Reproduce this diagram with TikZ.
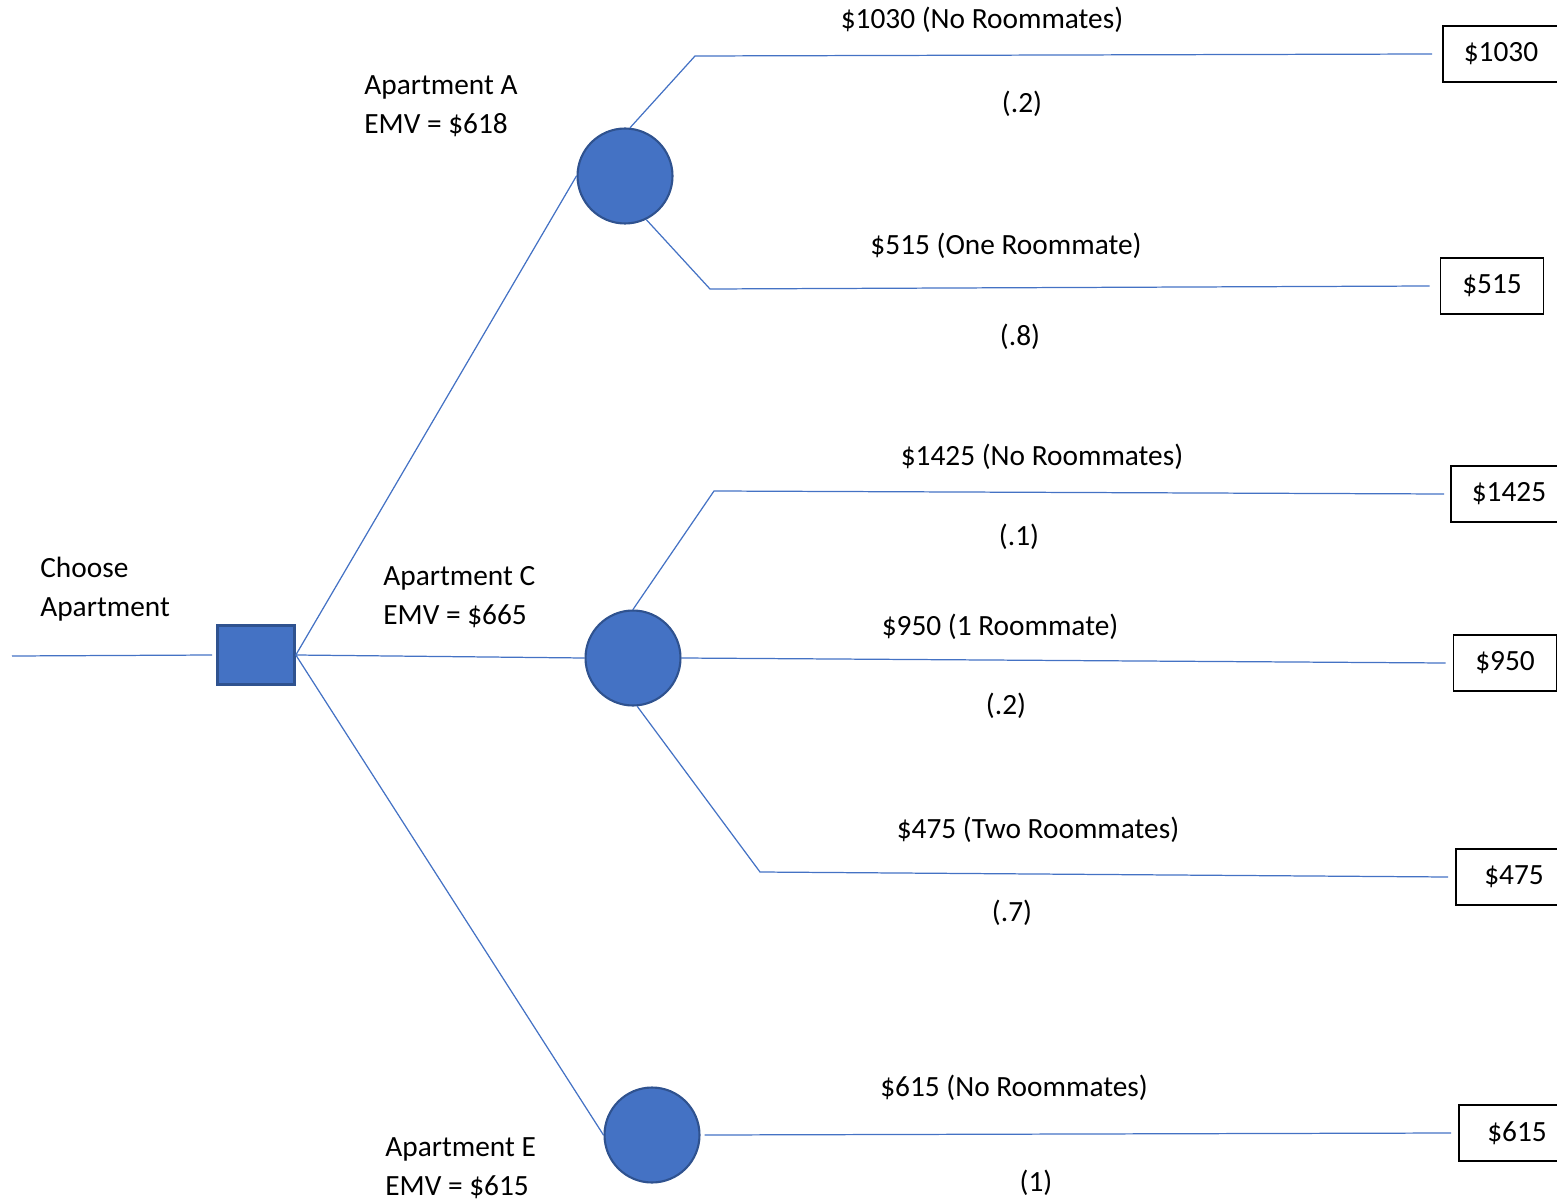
\documentclass[tikz,border=0pt]{standalone}
\usepackage{fontspec}
\setmainfont{Carlito}
\definecolor{nodeblue}{HTML}{4472C4}
\definecolor{edgeblue}{HTML}{2F528F}

\begin{document}
\begin{tikzpicture}[x=0.02cm,y=-0.02cm,
  every node/.style={font=\fontsize{16.7}{22}\selectfont},
  branch/.style={draw=nodeblue,line width=0.7pt},
  chance/.style={circle,fill=nodeblue,draw=edgeblue,line width=1.2pt,minimum size=1.9cm,inner sep=0pt},
  decision/.style={rectangle,fill=nodeblue,draw=edgeblue,line width=1.5pt,minimum width=1.54cm,minimum height=1.18cm,inner sep=0pt},
  payoff/.style={rectangle,draw=black,line width=1pt,minimum height=1.12cm,minimum width=2.06cm,inner sep=0pt},
  payoffwide/.style={payoff,minimum width=2.32cm},
  lbl/.style={inner sep=0pt}]
\useasboundingbox (0,0) rectangle (1557,1202);

% Decision node
\coordinate (start) at (12,656);
\node[decision] (dec) at (256,655) {};
\node[lbl,align=left,anchor=west] (choose) at (40,589) {Choose\\Apartment};
\draw[branch] (start) -- ([xshift=-0.08cm]dec.west);

% Chance nodes
\node[chance] (cA) at (625,176) {};
\node[chance] (cC) at (633,658) {};
\node[chance] (cE) at (652,1135) {};
\draw[branch] (dec.east) -- (cA.west);
\draw[branch] (dec.east) -- (cC.west);
\draw[branch] (dec.east) -- (cE.west);

\node[lbl,align=left,anchor=west] (labA) at (364,106) {Apartment A\\EMV = \$618};
\node[lbl,align=left,anchor=west] (labC) at (383,597) {Apartment C\\EMV = \$665};
\node[lbl,align=left,anchor=west] (labE) at (385,1168) {Apartment E\\EMV = \$615};

% Payoffs
\node[payoffwide] (t1) at (1501,54) {\$1030};
\node[payoff] (t2) at (1492,286) {\$515};
\node[payoffwide] (t3) at (1509,494) {\$1425};
\node[payoff] (t4) at (1505,663) {\$950};
\node[payoffwide] (t5) at (1514,877) {\$475};
\node[payoffwide] (t6) at (1517,1133) {\$615};

% Apartment A
\coordinate (eA1) at (695,56);
\coordinate (eA2) at (710,289);
\draw[branch] (cA.84) -- (eA1) -- ([xshift=-0.2cm]t1.west);
\draw[branch] (cA.-64) -- (eA2) -- ([xshift=-0.2cm]t2.west);
\node[lbl] (pA1) at (982,20) {\$1030 (No Roommates)};
\node[lbl] (qA1) at (1022,104) {(.2)};
\node[lbl] (pA2) at (1006,246) {\$515 (One Roommate)};
\node[lbl] (qA2) at (1020,337) {(.8)};

% Apartment C
\coordinate (eC1) at (714,491);
\coordinate (eC3) at (760,872);
\draw[branch] (cC.north) -- (eC1) -- ([xshift=-0.12cm]t3.west);
\draw[branch] (cC.east) -- ([xshift=-0.14cm]t4.west);
\draw[branch] (cC.-85) -- (eC3) -- ([xshift=-0.14cm]t5.west);
\node[lbl] (pC1) at (1042,457) {\$1425 (No Roommates)};
\node[lbl] (qC1) at (1019,537) {(.1)};
\node[lbl] (pC2) at (1000,627) {\$950 (1 Roommate)};
\node[lbl] (qC2) at (1006,706) {(.2)};
\node[lbl] (pC3) at (1038,830) {\$475 (Two Roommates)};
\node[lbl] (qC3) at (1012,913) {(.7)};

% Apartment E
\draw[branch] ([xshift=0.08cm]cE.east) -- ([xshift=-0.14cm]t6.west);
\node[lbl] (pE1) at (1014,1088) {\$615 (No Roommates)};
\node[lbl] (qE1) at (1036,1183) {(1)};
\end{tikzpicture}
\end{document}
